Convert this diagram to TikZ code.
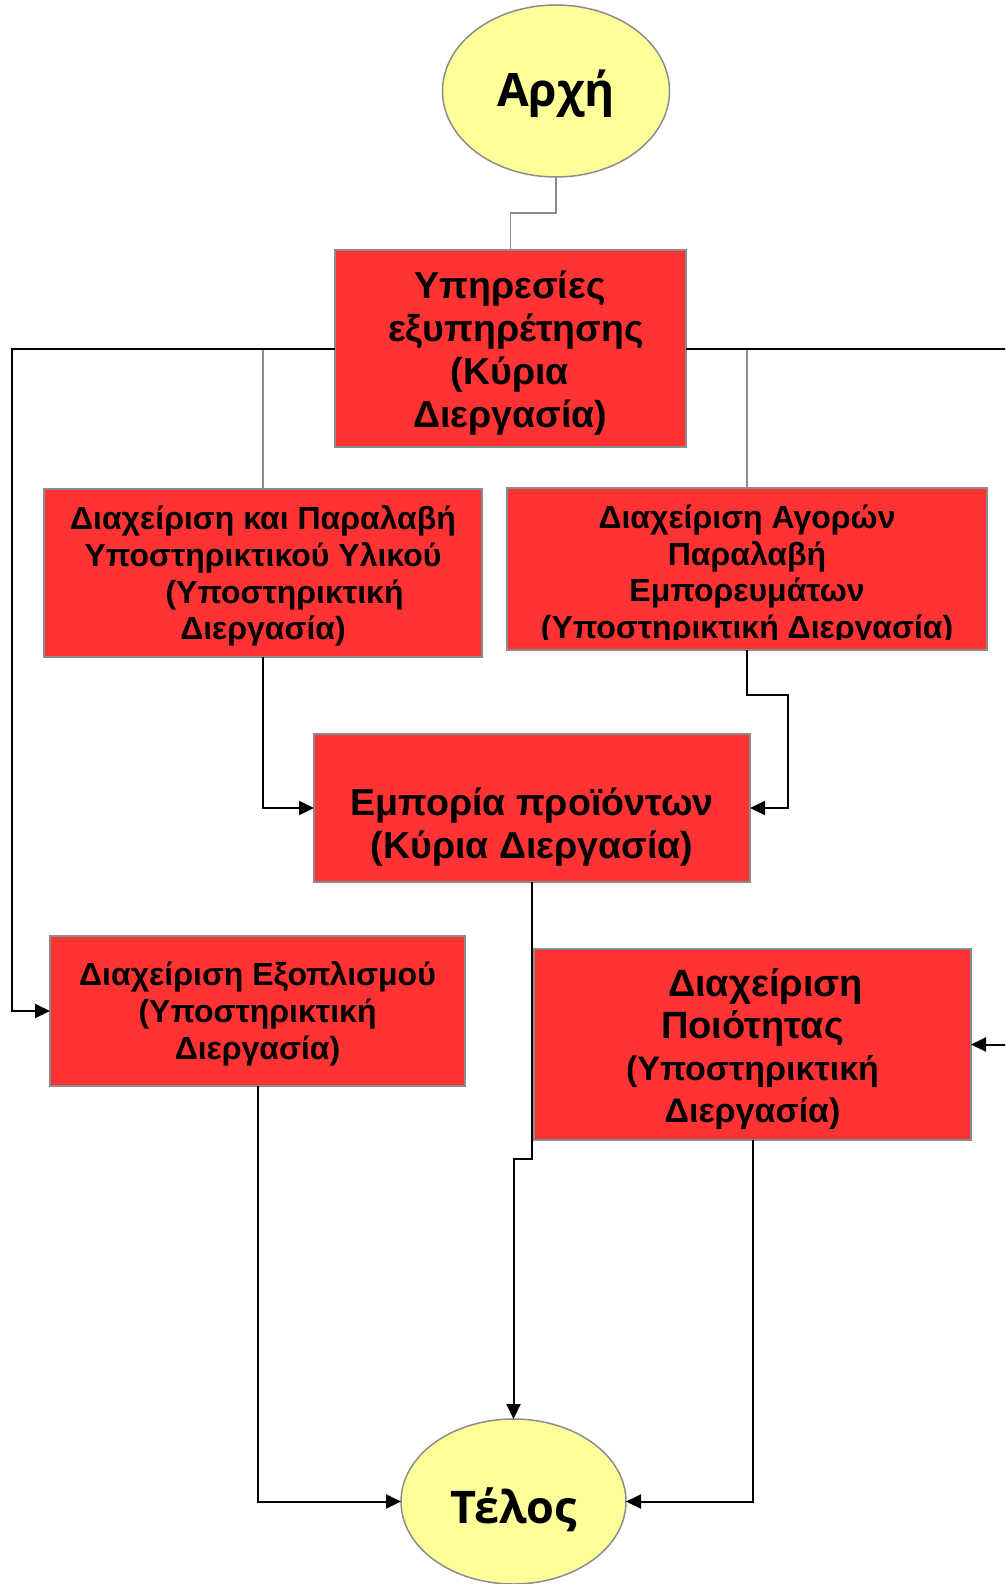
\documentclass[tikz,border=0pt]{standalone}
\usepackage{fontspec}
\setmainfont{Liberation Sans}
\newfontfamily\termfont{Open Sans}
\usetikzlibrary{shapes.geometric,arrows.meta}

\definecolor{procred}{RGB}{255,51,51}
\definecolor{termyellow}{RGB}{255,255,153}
\definecolor{edgegray}{RGB}{140,140,140}

\begin{document}
\begin{tikzpicture}[x=1pt,y=-1pt,
  proc/.style={draw=edgegray, line width=2pt, fill=procred, inner sep=0pt, outer sep=0pt},
  term/.style={ellipse, draw=edgegray, line width=1.5pt, fill=termyellow, inner sep=0pt, outer sep=0pt},
  termtext/.style={font=\termfont\bfseries\fontsize{46}{50}\selectfont, inner sep=0pt, anchor=base},
  bigtext/.style={font=\bfseries\fontsize{37.5}{43}\selectfont, align=center, inner sep=0pt},
  smalltext/.style={font=\bfseries\fontsize{32}{36.8}\selectfont, align=center, inner sep=0pt},
  link/.style={draw=edgegray, line width=1.6pt},
  flow/.style={draw=black, line width=2pt, -{Triangle[length=15pt,width=14pt]}}]

\useasboundingbox (0,0) rectangle (1005,1584);
\clip (0,0) rectangle (1005,1584);

% terminals
\node[term, minimum width=227, minimum height=172] (start) at (556,91) {};
\node[termtext] (starttext) at (556,107) {Αρχή};
\node[term, minimum width=225, minimum height=165] (end) at (513.5,1501.5) {};
\node[termtext, font=\termfont\bfseries\fontsize{45}{50}\selectfont] (endtext) at (513.5,1523) {Τέλος};

% process boxes
\node[proc, minimum width=351, minimum height=197] (svc) at (510.5,348.5) {};
\node[proc, minimum width=438, minimum height=168] (sup) at (263,573) {};
\node[proc, minimum width=480, minimum height=162] (buy) at (747,569) {};
\node[proc, minimum width=436, minimum height=148] (trade) at (532,808) {};
\node[proc, minimum width=415, minimum height=150] (equip) at (257.5,1011) {};
\node[proc, minimum width=437, minimum height=191] (qual) at (752.5,1044.5) {};

% box labels
\node[bigtext] (svctext) at (510,353) {Υπηρεσίες\\\hspace*{12pt}εξυπηρέτησης\\(Κύρια\\Διεργασία)};
\node[smalltext] (suptext) at (263,576) {Διαχείριση και Παραλαβή\\Υποστηρικτικού Υλικού\\\hspace*{43pt}(Υποστηρικτική\\Διεργασία)};
\begin{scope}
  % the last line of this label runs past the text area and is cut off
  \clip (507,488) rectangle (987,639);
  \node[smalltext] (buytext) at (747,575) {Διαχείριση Αγορών\\Παραλαβή\\Εμπορευμάτων\\(Υποστηρικτική Διεργασία)};
\end{scope}
\node[bigtext] (tradetext) at (532,827) {Εμπορία προϊόντων\\(Κύρια Διεργασία)};
\node[smalltext] (equiptext) at (257.5,1014) {Διαχείριση Εξοπλισμού\\(Υποστηρικτική\\Διεργασία)};
\node[font=\bfseries\fontsize{38}{42}\selectfont, align=center, inner sep=0pt] (qualtext) at (752.5,1049)
  {\hspace*{26pt}Διαχείριση\\Ποιότητας\\\fontsize{34}{39}\selectfont(Υποστηρικτική\\\fontsize{34}{39}\selectfont Διεργασία)};

% rails leaving the main service box
\coordinate (lrail) at (12,0);
\coordinate (rrail) at (1020,0);

% grey connectors
\draw[link] (start.south) -- ++(0,36) -| (svc.north);
\draw[link] (svc.west) -| (sup.north);
\draw[link] (svc.east) -| (buy.north);

% black flow connectors
\draw[flow] (svc.west) -- (svc.west -| lrail) |- (equip.west);
\draw[flow] (svc.east) -- (svc.east -| rrail) |- (qual.east);
\draw[flow] (sup.south) |- (trade.west);
\draw[flow] (buy.south) -- ++(0,45) -| ([xshift=38]trade.east) -- (trade.east);
\draw[flow] (trade.south) -- ++(0,277) -| (end.north);
\draw[flow] (equip.south) |- (end.west);
\draw[flow] (qual.south) |- (end.east);
\end{tikzpicture}
\end{document}
